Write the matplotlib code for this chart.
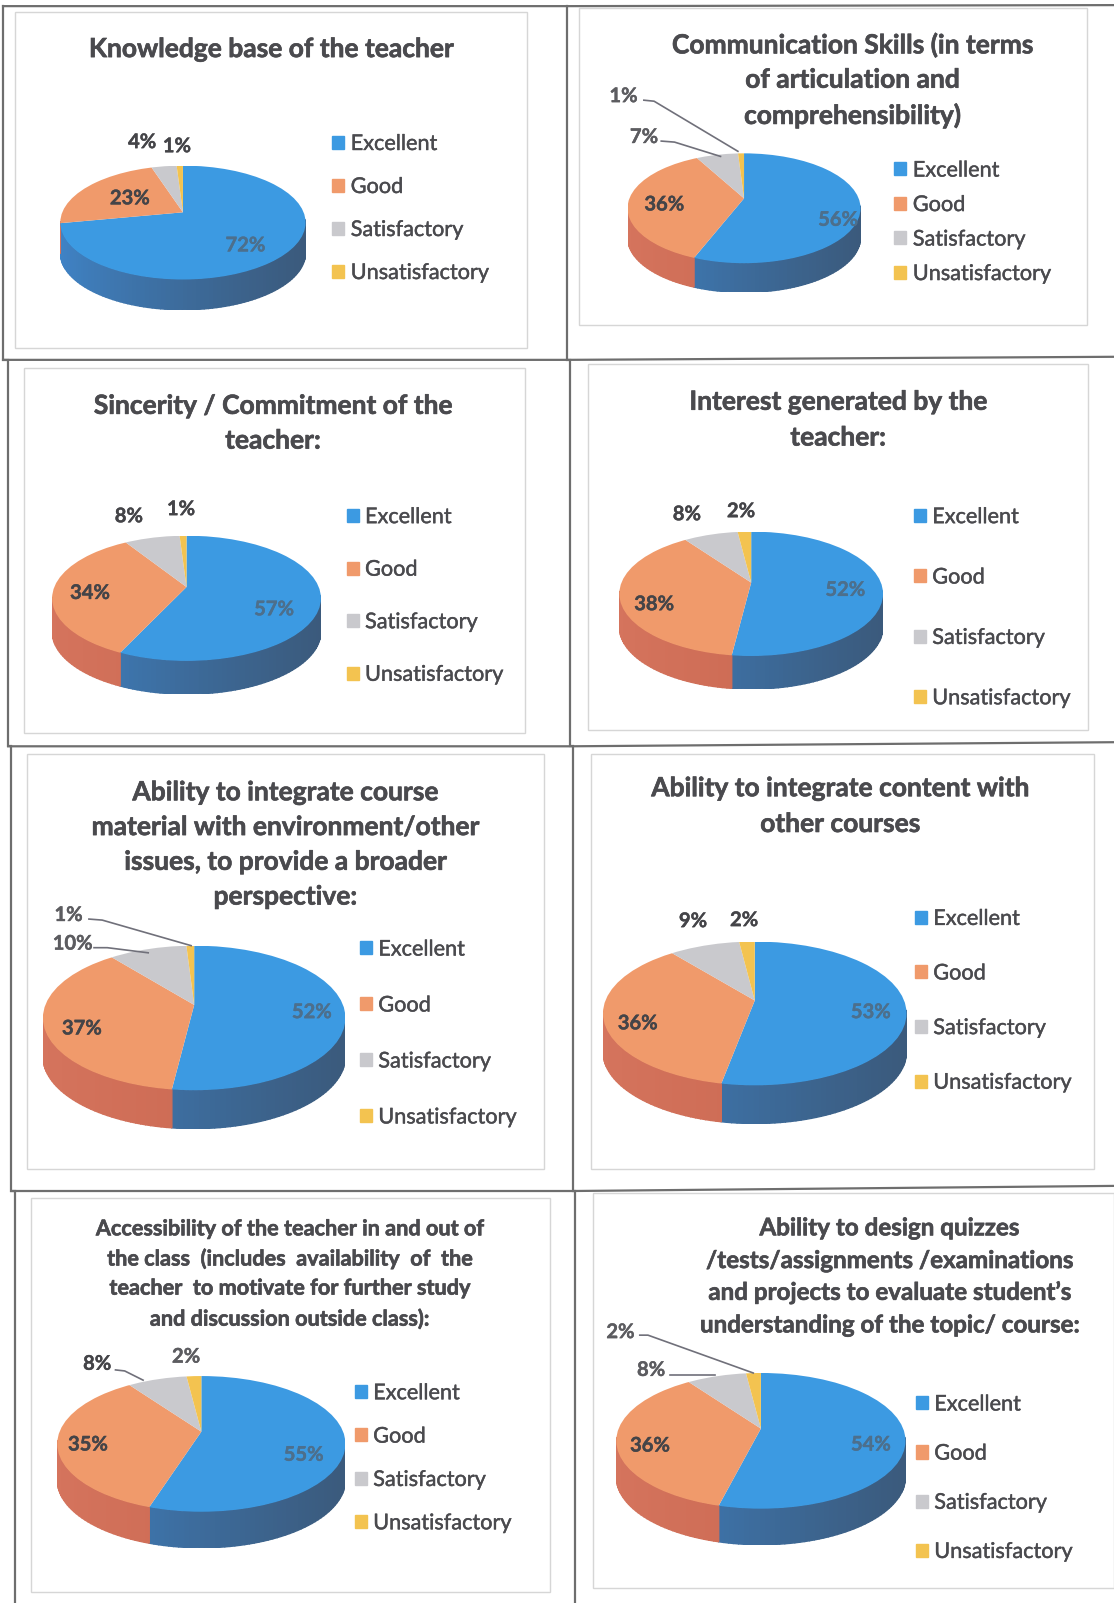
import numpy as np
import matplotlib
matplotlib.use("Agg")
import matplotlib.pyplot as plt
import matplotlib.patheffects as pe
from matplotlib.patches import Patch, Rectangle, Circle

W, H = 1114, 1603
plt.rcParams['font.family'] = ['Lato', 'DejaVu Sans']

categories = ["Excellent", "Good", "Satisfactory", "Unsatisfactory"]
titles = [
    "Knowledge base of the teacher",
    "Communication Skills (in terms\nof articulation and\ncomprehensibility)",
    "Sincerity / Commitment of the\nteacher:",
    "Interest generated by the\nteacher:",
    "Ability to integrate course\nmaterial with environment/other\nissues, to provide a broader\nperspective:",
    "Ability to integrate content with\nother courses",
    "Accessibility of the teacher in and out of\nthe class  (includes  availability  of  the\nteacher  to motivate for further study\nand discussion outside class):",
    "Ability to design quizzes\n/tests/assignments /examinations\nand projects to evaluate student\u2019s\nunderstanding of the topic/ course:",
]
knowledge = [72, 23, 4, 1]
communication = [56, 36, 7, 1]
sincerity = [57, 34, 8, 1]
interest = [52, 38, 8, 2]
integrate_env = [52, 37, 10, 1]
integrate_content = [53, 36, 9, 2]
accessibility = [55, 35, 8, 2]
design = [54, 36, 8, 2]
series = [knowledge, communication, sincerity, interest,
          integrate_env, integrate_content, accessibility, design]

top_colors = ['#3c9ae2', '#f09a6b', '#c9c9cd', '#f3c350']
wall_left = ['#3f83c6', '#d5745d', '#a9a9ad', '#c9a040']
wall_right = ['#3b5a7c', '#c8664f', '#a9a9ad', '#c9a040']

# layout, in pixels of the output picture
sx, sy = W / 1090, H / 1568
def P(x, y):
    return x * sx, y * sy

inner = [(15, 12, 516, 340), (567, 8, 1064, 318), (23, 360, 514, 717), (575, 356, 1065, 714),
         (26, 738, 532, 1143), (578, 738, 1070, 1143), (30, 1172, 538, 1557), (580, 1167, 1090, 1553)]
title_x = [265, 834, 267, 820, 279, 822, 284, 870]
title_y = [[48], [44, 78, 113], [397, 431], [393, 428], [775, 809, 843, 877], [771, 806],
           [1202, 1231, 1260, 1290], [1201, 1233, 1264, 1296]]
title_size = [19, 19, 19, 19, 19, 19, 15.6, 17.4]
pie_box = [(59, 299, 162, 303), (614, 842, 150, 286), (51, 314, 524, 679), (606, 864, 520, 674),
           (42, 338, 925, 1104), (590, 887, 921, 1099), (56, 338, 1346, 1514), (603, 886, 1343, 1511)]
legend_x = [331, 881, 345, 900, 358, 901, 353, 902]
legend_rows = [[139, 181, 223, 265], [165, 199, 232, 266], [504, 555, 607, 658], [504, 563, 622, 681],
               [927, 982, 1037, 1091], [897, 950, 1003, 1057], [1361, 1403, 1446, 1488], [1372, 1420, 1468, 1516]]
label_xy = [
    [(240, 240), (127, 194), (139, 139), (173, 143)],
    [(820, 215), (650, 200), (630, 134), (610, 94)],
    [(268, 596), (88, 580), (126, 505), (177, 498)],
    [(827, 577), (640, 591), (672, 503), (725, 500)],
    [(305, 990), (80, 1006), (71, 923), (67, 895)],
    [(852, 990), (624, 1001), (678, 901), (728, 900)],
    [(297, 1423), (86, 1413), (95, 1334), (182, 1327)],
    [(852, 1413), (636, 1414), (637, 1340), (607, 1303)],
]
leaders = {
    1: [[(647, 138), (660, 139), (705, 153)], [(630, 98), (640, 99), (722, 148)]],
    4: [[(92, 927), (105, 927), (145, 932)], [(87, 899), (100, 900), (187, 925)]],
    6: [[(113, 1340), (122, 1341), (140, 1350)]],
    7: [[(656, 1345), (700, 1345)], [(626, 1306), (634, 1306), (737, 1343)]],
}
frame_lines = [
    [(3, 6), (3, 352), (8, 352), (8, 730), (11, 730), (11, 1165), (15, 1165), (15, 1568)],
    [(555, 6), (555, 352), (558, 352), (558, 730), (561, 730), (561, 1165), (563, 1165), (563, 1568)],
    [(3, 6), (555, 6), (1090, 5)],
    [(3, 352), (555, 352), (1090, 349)],
    [(8, 730), (558, 730), (1090, 726)],
    [(11, 1165), (561, 1165), (1090, 1160)],
]

DEPTH = 0.21
APEX = 0.18     # perspective: the pie centre sits above the ellipse centre
LEG_FS = 15.6


def rim_angle(a_deg):
    """Where a ray from the raised apex meets the rim, as an angle on the unit circle."""
    a = np.radians(a_deg)
    dx, dy = np.cos(a), np.sin(a)
    b = APEX * dy
    t = -b + np.sqrt(b * b - (APEX ** 2 - 1))
    return np.arctan2(APEX + t * dy, t * dx)


fig = plt.figure(figsize=(W / 100, H / 100), dpi=100, facecolor='white')
bg = fig.add_axes([0, 0, 1, 1], zorder=0)
bg.set_xlim(0, W); bg.set_ylim(H, 0); bg.axis('off')
over = fig.add_axes([0, 0, 1, 1], zorder=5)
over.set_xlim(0, W); over.set_ylim(H, 0); over.axis('off'); over.patch.set_alpha(0)

for line in frame_lines:
    pts = np.array([P(*p) for p in line])
    bg.plot(pts[:, 0], pts[:, 1], color='#6e6e6e', lw=1.6, solid_joinstyle='miter')
for (x0, y0, x1, y1) in inner:
    a, b = P(x0, y0); c, d = P(x1, y1)
    bg.add_patch(Rectangle((a, b), c - a, d - b, fill=False, ec='#d6d6d6', lw=1.0))

for i, vals in enumerate(series):
    x0, x1, yt, yb = pie_box[i]
    left, top = P(x0, yt); right, bottom = P(x1, yb)
    ax = fig.add_axes([left / W, 1 - bottom / H, (right - left) / W, (bottom - top) / H], zorder=2)
    total_h = bottom - top
    ry_px = total_h * (1 - DEPTH) / 2
    depth = total_h * DEPTH / ry_px
    # side wall, drawn first
    fr = np.cumsum([0] + vals) / sum(vals)
    for k in range(4):
        a0 = rim_angle(90 - 360 * fr[k])
        a1 = rim_angle(90 - 360 * fr[k + 1])
        if a1 > a0:
            a1 -= 2 * np.pi
        th = np.linspace(a0, a1, max(3, int(np.degrees(a0 - a1) / 2)))
        for t0, t1 in zip(th[:-1], th[1:]):
            if np.sin(t0) > 0.02 and np.sin(t1) > 0.02:
                continue
            f = (np.cos(t0) + 1) / 2
            c0 = np.array(matplotlib.colors.to_rgb(wall_left[k]))
            c1 = np.array(matplotlib.colors.to_rgb(wall_right[k]))
            col = c0 + (c1 - c0) * f ** 0.8
            xs = [np.cos(t0), np.cos(t1), np.cos(t1), np.cos(t0)]
            ys = [np.sin(t0), np.sin(t1), np.sin(t1) - depth, np.sin(t0) - depth]
            ax.fill(xs, ys, facecolor=col, edgecolor=col, lw=1.0, zorder=1, clip_on=True)
    wedges, _ = ax.pie(vals, colors=top_colors, startangle=90, counterclock=False,
                       radius=2.6, center=(0, APEX), wedgeprops={'linewidth': 0, 'zorder': 3})
    ax.set_aspect('auto')
    ax.set_xlim(-1, 1)
    ax.set_ylim(-1 - depth, 1)
    ax.axis('off')
    rim = Circle((0, 0), 1, transform=ax.transData)
    for w in wedges:
        w.set_clip_on(True)
        w.set_clip_path(rim)

    lines = titles[i].split('\n')
    for ln, y in zip(lines, title_y[i]):
        tx, ty = P(title_x[i], y)
        over.text(tx, ty, ln, ha='center', va='center', fontsize=title_size[i],
                  fontweight='bold', color='#4a4a4e',
                  path_effects=[pe.withStroke(linewidth=0.45, foreground='#4a4a4e')])

    for k, v in enumerate(vals):
        lx, ly = P(*label_xy[i][k])
        col = '#4d6f8c' if k == 0 else '#444448'
        if i in leaders and k >= 4 - len(leaders[i]):
            col = '#5c5c60'
        over.text(lx, ly, f"{v}%", ha='center', va='center', fontsize=14.5,
                  fontweight='bold', color=col,
                  path_effects=[pe.withStroke(linewidth=0.3, foreground=col)])
    for seg in leaders.get(i, []):
        pts = np.array([P(*p) for p in seg])
        over.plot(pts[:, 0], pts[:, 1], color='#70707a', lw=1.2)

    rows = legend_rows[i]
    step_px = (rows[-1] - rows[0]) / 3 * sy
    font_px = LEG_FS * 100 / 72
    mx, my = P(legend_x[i], rows[0])
    handles = [Patch(color=c) for c in top_colors]
    leg = fig.legend(handles, categories, loc='center left', frameon=False,
                     bbox_to_anchor=((mx - 6) / W, 1 - (my + 1.5 * step_px + 2) / H),
                     fontsize=LEG_FS, labelcolor='#4a4a4e',
                     borderpad=0, borderaxespad=0, handlelength=0.55, handleheight=0.55,
                     handletextpad=0.3, labelspacing=step_px / font_px - 0.92)
    leg.set_zorder(6)
    for t in leg.get_texts():
        t.set_path_effects([pe.withStroke(linewidth=0.3, foreground='#4a4a4e')])

fig.savefig('out.png', dpi=100, facecolor='white')
